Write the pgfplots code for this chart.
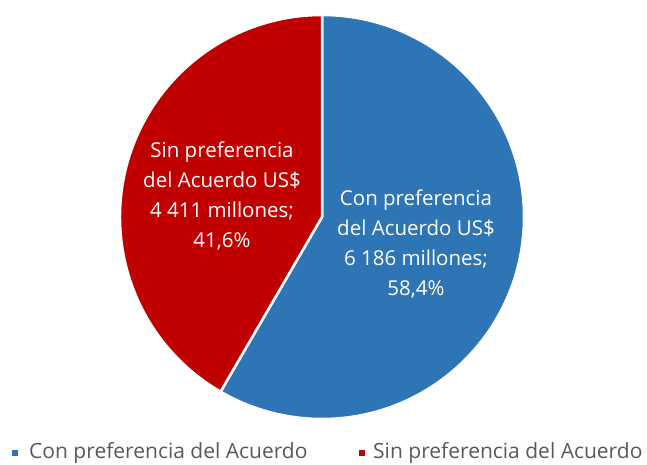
\documentclass[border=0pt]{standalone}
\usepackage{pgfplots}
\usepackage{pgfplotstable}
\pgfplotsset{compat=1.18}
\usepackage{fontspec}
\setmainfont{Open Sans}
\definecolor{cblue}{HTML}{2E75B6}
\definecolor{cred}{HTML}{C00000}
\definecolor{cgray}{HTML}{595959}
\pgfplotstableread{
name value
Con 6186
Sin 4411
}\datatbl
\begin{document}
\begin{tikzpicture}
\pgfplotstablegetelem{0}{value}\of\datatbl \let\vA\pgfplotsretval
\pgfplotstablegetelem{1}{value}\of\datatbl \let\vB\pgfplotsretval
\pgfmathsetmacro\fracA{\vA/(\vA+\vB)}
\pgfmathsetmacro\angA{360*\fracA}
\pgfmathsetmacro\endA{90-\angA}
\begin{axis}[x=1pt,y=1pt,xmin=0,xmax=647,ymin=0,ymax=465,hide axis,clip=false]
\path (axis cs:0,0) rectangle (axis cs:647,465);
\fill[cblue,draw=white,line width=2.5pt,line join=round] (axis cs:322,248) -- ++(90:202pt) arc[start angle=90,end angle=\endA,radius=202pt] -- cycle;
\fill[cred,draw=white,line width=2.5pt,line join=round] (axis cs:322,248) -- ++(\endA:202pt) arc[start angle=\endA,end angle=-270,radius=202pt] -- cycle;
\node[white,align=center,font=\fontsize{20.5}{30}\selectfont] at (axis cs:222,269) {Sin preferencia\\del Acuerdo US\$\\4 411 millones;\\41,6\%};
\node[white,align=center,font=\fontsize{20.5}{30}\selectfont] at (axis cs:416,221) {Con preferencia\\del Acuerdo US\$\\6 186 millones;\\58,4\%};
\fill[cblue] (axis cs:12,8.5) rectangle (axis cs:18,14.5);
\node[anchor=west,cgray,font=\fontsize{21}{24}\selectfont,inner sep=0pt] at (axis cs:29,12) {Con preferencia del Acuerdo};
\fill[cred] (axis cs:358.5,8.5) rectangle (axis cs:364.5,14.5);
\node[anchor=west,cgray,font=\fontsize{21}{24}\selectfont,inner sep=0pt] at (axis cs:373,12) {Sin preferencia del Acuerdo};
\end{axis}
\end{tikzpicture}
\end{document}
